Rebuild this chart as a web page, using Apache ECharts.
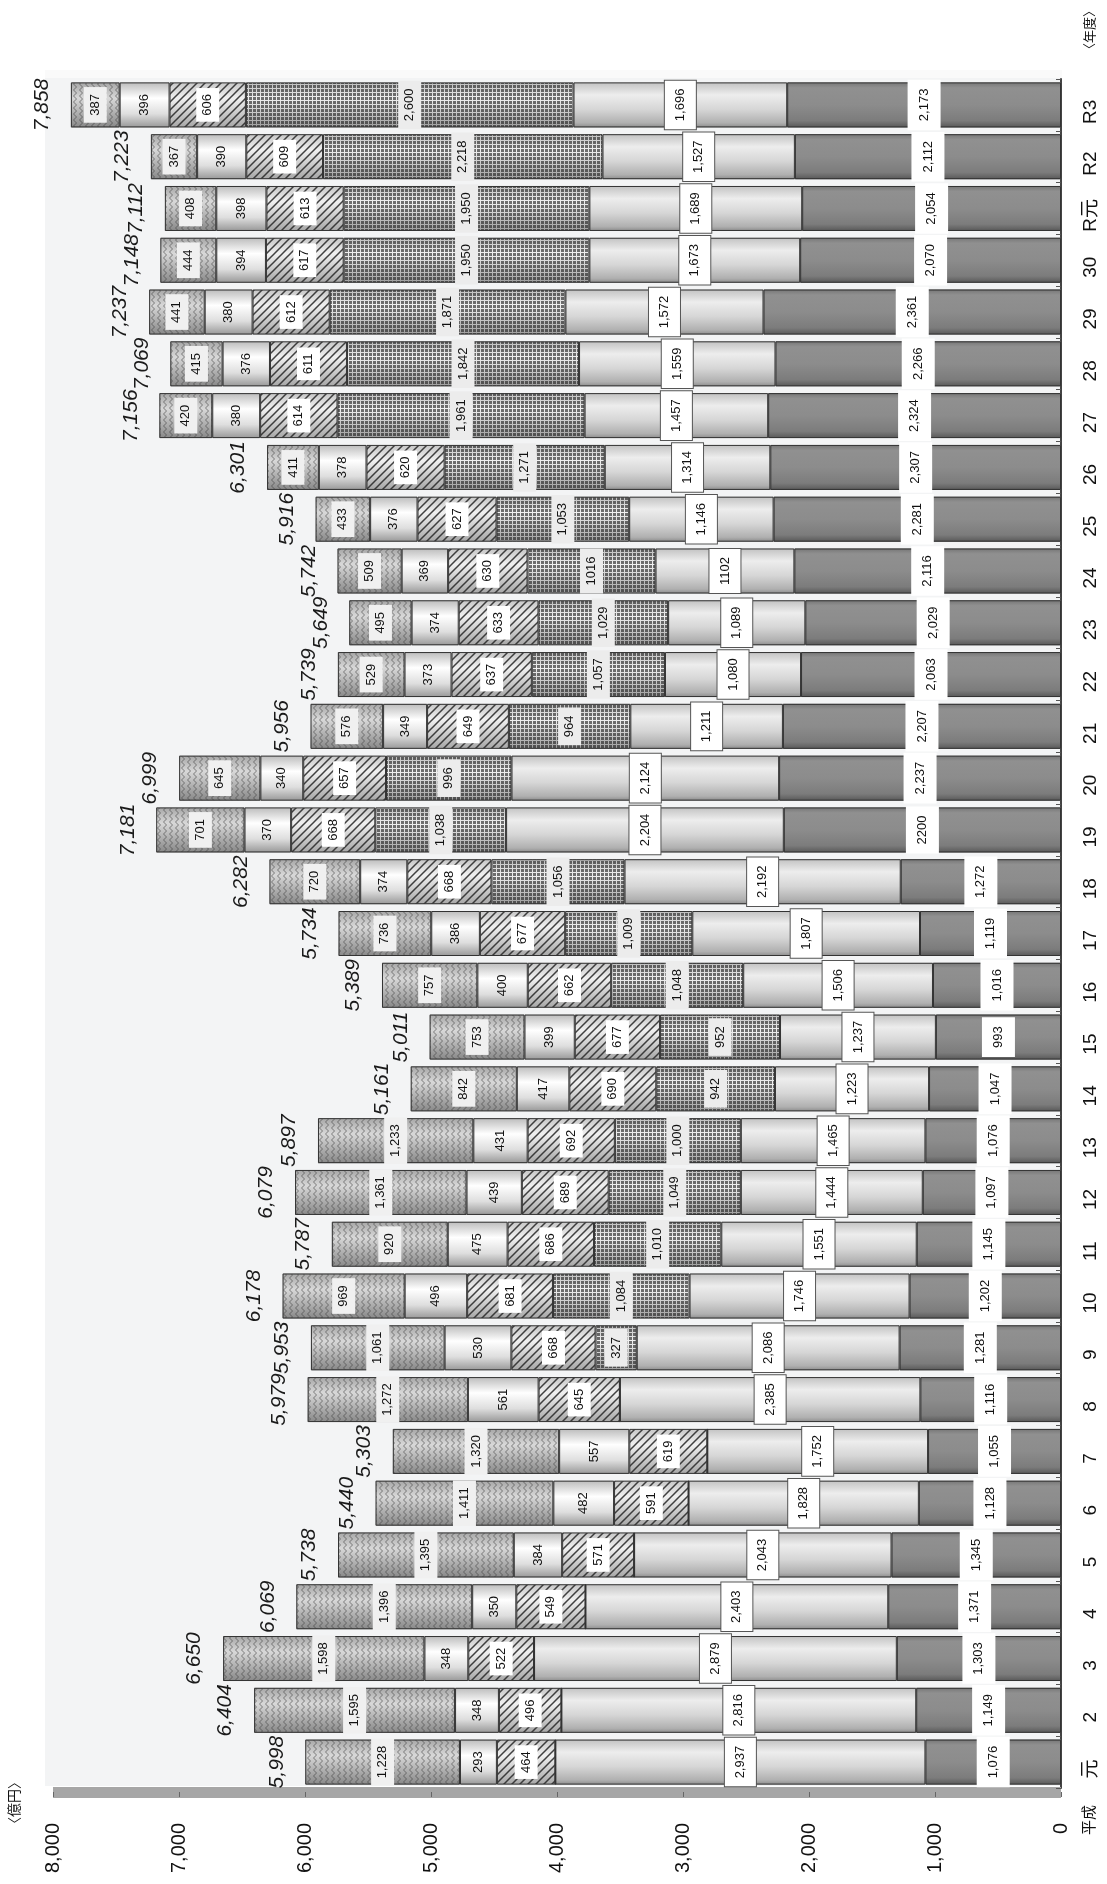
<!DOCTYPE html>
<html><head><meta charset="utf-8">
<script src="https://cdn.jsdelivr.net/npm/echarts@6/dist/echarts.min.js"></script>
<style>html,body{margin:0;padding:0;background:#fff}#c{width:1107px;height:1884px}</style>
</head><body><div id="c"></div>
<script>
// ---- data ----
const categories = ['元','2','3','4','5','6','7','8','9','10','11','12','13','14','15','16','17','18','19','20','21','22','23','24','25','26','27','28','29','30','R元','R2','R3'];
const darkVals   = [1076,1149,1303,1371,1345,1128,1055,1116,1281,1202,1145,1097,1076,1047,993,1016,1119,1272,2200,2237,2207,2063,2029,2116,2281,2307,2324,2266,2361,2070,2054,2112,2173];
const lightVals  = [2937,2816,2879,2403,2043,1828,1752,2385,2086,1746,1551,1444,1465,1223,1237,1506,1807,2192,2204,2124,1211,1080,1089,1102,1146,1314,1457,1559,1572,1673,1689,1527,1696];
const gridVals   = [0,0,0,0,0,0,0,0,327,1084,1010,1049,1000,942,952,1048,1009,1056,1038,996,964,1057,1029,1016,1053,1271,1961,1842,1871,1950,1950,2218,2600];
const hatchVals  = [464,496,522,549,571,591,619,645,668,681,686,689,692,690,677,662,677,668,668,657,649,637,633,630,627,620,614,611,612,617,613,609,606];
const plainVals  = [293,348,348,350,384,482,557,561,530,496,475,439,431,417,399,400,386,374,370,340,349,373,374,369,376,378,380,376,380,394,398,390,396];
const zigzagVals = [1228,1595,1598,1396,1395,1411,1320,1272,1061,969,920,1361,1233,842,753,757,736,720,701,645,576,529,495,509,433,411,420,415,441,444,408,367,387];
const totals     = [5998,6404,6650,6069,5738,5440,5303,5979,5953,6178,5787,6079,5897,5161,5011,5389,5734,6282,7181,6999,5956,5739,5649,5742,5916,6301,7156,7069,7237,7148,7112,7223,7858];
const valueTicks = [0,1000,2000,3000,4000,5000,6000,7000,8000];
// labels printed without thousands separator in the source
const darkNoComma = [18];
const lightNoComma = [23];
const gridNoComma = [23];

// ---- styling ----
const FONT = "'Liberation Sans', Arial, 'Noto Sans CJK JP', sans-serif";
const fmt = v => String(v).replace(/\B(?=(\d{3})+(?!\d))/g, ',');
function grad(stops){return {type:'linear',x:0,y:0,x2:0,y2:1,colorStops:stops.map(s=>({offset:s[0],color:s[1]}))};}
function makeCanvas(w,h,draw){const c=document.createElement('canvas');c.width=w;c.height=h;draw(c.getContext('2d'));return c;}
const gridPat = makeCanvas(4,4,ctx=>{ctx.fillStyle='rgba(30,30,30,0.62)';ctx.fillRect(1,1,3,3);});
const hatchPat = makeCanvas(8,8,ctx=>{ctx.strokeStyle='rgba(45,45,45,0.9)';ctx.lineWidth=1.5;ctx.beginPath();
  ctx.moveTo(-2,10);ctx.lineTo(10,-2);ctx.moveTo(-2,2);ctx.lineTo(2,-2);ctx.moveTo(6,10);ctx.lineTo(10,6);ctx.stroke();});
const zigPat = makeCanvas(6,6,ctx=>{ctx.strokeStyle='rgba(60,60,60,0.6)';ctx.lineWidth=1;ctx.beginPath();
  ctx.moveTo(1.5,0);ctx.lineTo(4.5,3);ctx.lineTo(1.5,6);ctx.stroke();});

const segs = [
  {name:'区分1', vals:darkVals, noComma:darkNoComma, pat:null,
   fill:grad([[0,'#767676'],[0.12,'#909090'],[0.5,'#8c8c8c'],[0.85,'#7c7c7c'],[1,'#585858']]),
   lbl:{backgroundColor:'#fff',padding:[10,9]}},
  {name:'区分2', vals:lightVals, noComma:lightNoComma, pat:null,
   fill:grad([[0,'#c2c2c2'],[0.28,'#ededed'],[0.6,'#d6d6d6'],[0.9,'#b0b0b0'],[1,'#8c8c8c']]),
   lbl:{backgroundColor:'#fff',borderColor:'#555',borderWidth:1,padding:[9,8]}},
  {name:'区分3', vals:gridVals, noComma:gridNoComma, pat:gridPat,
   fill:grad([[0,'#bcbcbc'],[0.35,'#f2f2f2'],[1,'#9c9c9c']]),
   lbl:{backgroundColor:'#ececec',padding:[5,8]}},
  {name:'区分4', vals:hatchVals, noComma:[], pat:hatchPat,
   fill:grad([[0,'#c6c6c6'],[0.35,'#f0f0f0'],[1,'#a6a6a6']]),
   lbl:{backgroundColor:'#fff',padding:[5,6]}},
  {name:'区分5', vals:plainVals, noComma:[], pat:null,
   fill:grad([[0,'#bcbcbc'],[0.35,'#ffffff'],[0.7,'#dedede'],[1,'#989898']]),
   lbl:{}},
  {name:'区分6', vals:zigzagVals, noComma:[], pat:zigPat,
   fill:grad([[0,'#a6a6a6'],[0.35,'#d8d8d8'],[1,'#888']]),
   lbl:{backgroundColor:'#f0f0f0',padding:[5,7]}}
];

const BW = 45;
const series = [];
segs.forEach(s=>{
  series.push({
    name:s.name, type:'bar', stack:'base', barWidth:BW, barGap:'-100%',
    data:s.vals.map(v=> v>0 ? v : {value:0,label:{show:false}}),
    itemStyle:{color:s.fill},
    label:Object.assign({show:true,position:'inside',rotate:90,fontSize:13,fontFamily:FONT,color:'#111',
      formatter:p=> s.noComma.indexOf(p.dataIndex)>=0 ? String(p.value) : fmt(p.value)}, s.lbl),
    silent:true
  });
});
segs.forEach(s=>{
  series.push({
    name:s.name+'_o', type:'bar', stack:'over', barWidth:BW, barGap:'-100%',
    data:s.vals.slice(),
    itemStyle:{color: s.pat ? {image:s.pat,repeat:'repeat'} : 'rgba(0,0,0,0)', borderColor:'#333', borderWidth:1},
    label:{show:false}, silent:true
  });
});
series.push({
  name:'合計', type:'bar', stack:'total', barWidth:BW, barGap:'-100%',
  data:totals.slice(),
  itemStyle:{color:'rgba(0,0,0,0)'},
  label:{show:true,position:'left',distance:28,rotate:90,align:'center',verticalAlign:'bottom',offset:[0,10],
    fontSize:21,fontStyle:'italic',fontFamily:FONT,color:'#1a1a1a',formatter:p=>fmt(p.value)},
  silent:true
});

const chart = echarts.init(document.getElementById('c'), null, {renderer:'canvas'});
chart.setOption({
  animation:false,
  backgroundColor:'#fff',
  grid:{left:53,right:46,top:79,bottom:96},
  xAxis:{type:'value',min:valueTicks[0],max:valueTicks[valueTicks.length-1],interval:1000,inverse:true,position:'bottom',offset:4,
    axisLine:{show:true,lineStyle:{color:'#a6a6a6',width:11,cap:'butt'}},
    axisTick:{show:true,length:5,lineStyle:{color:'#666',width:1}},
    splitLine:{show:false},
    axisLabel:{rotate:90,margin:31,fontSize:20,fontFamily:FONT,color:'#111',formatter:v=>fmt(v)}},
  yAxis:{type:'category',data:categories,position:'right',
    axisLine:{show:true,lineStyle:{color:'#444',width:2}},
    axisTick:{show:true,inside:true,length:5,lineStyle:{color:'#555'}},
    axisLabel:{interval:0,rotate:90,margin:20,fontSize:19,fontFamily:FONT,color:'#111',padding:[0,14,0,0]}},
  graphic:[
    {type:'rect',z:0,shape:{x:45,y:70,width:1017,height:1716},style:{fill:'#f3f4f5'}},
    {type:'rect',z:0,shape:{x:45,y:70,width:1017,height:8},style:{fill:'#fafafa'}},
    {type:'text',z:10,x:14,y:1803,rotation:Math.PI/2,style:{text:'〈億円〉',font:"14px 'Noto Sans CJK JP'",fill:'#111',align:'center',verticalAlign:'middle'}},
    {type:'text',z:10,x:1088,y:1820,rotation:Math.PI/2,style:{text:'平成',font:"15px 'Noto Sans CJK JP'",fill:'#111',align:'center',verticalAlign:'middle'}},
    {type:'text',z:10,x:1089,y:30,rotation:Math.PI/2,style:{text:'〈年度〉',font:"13px 'Noto Sans CJK JP'",fill:'#111',align:'center',verticalAlign:'middle'}}
  ],
  series:series
});
</script></body></html>
